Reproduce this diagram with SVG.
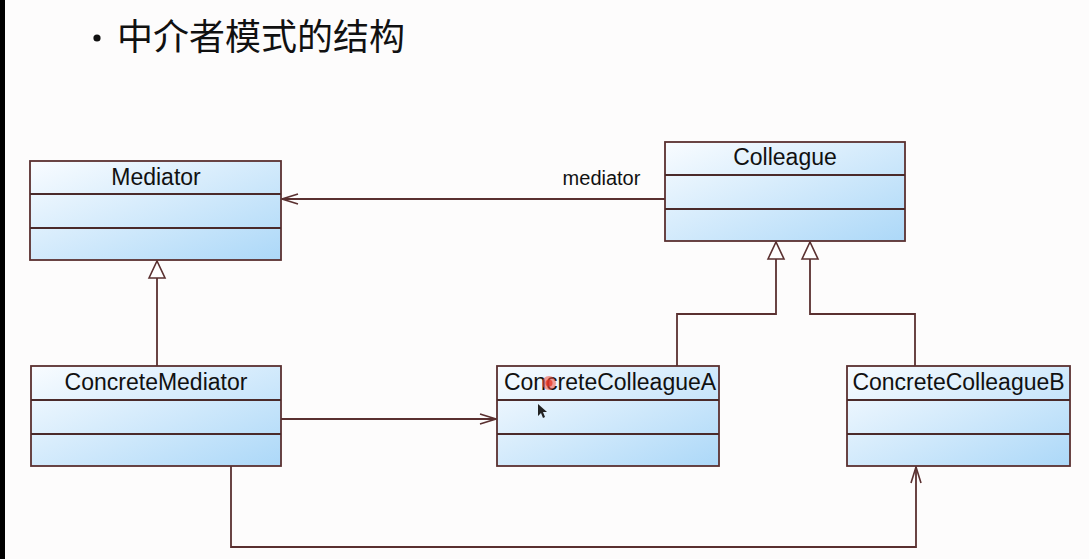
<svg xmlns="http://www.w3.org/2000/svg" width="1089" height="559" viewBox="0 0 1089 559">
<defs>
<linearGradient id="fill" x1="0" y1="0" x2="1" y2="1">
<stop offset="0" stop-color="#f9fcff"/>
<stop offset="1" stop-color="#acd8f8"/>
</linearGradient>
<marker id="open" viewBox="0 0 20 20" refX="18" refY="10" markerWidth="20" markerHeight="20" markerUnits="userSpaceOnUse" orient="auto">
<path d="M2,5 L18,10 L2,15" fill="none" stroke="#5a3030" stroke-width="1.6"/>
</marker>
<marker id="tri" viewBox="0 0 20 20" refX="19" refY="10" markerWidth="20" markerHeight="20" markerUnits="userSpaceOnUse" orient="auto">
<path d="M2,2 L19,10 L2,18 Z" fill="#ffffff" stroke="#5a3030" stroke-width="1.6"/>
</marker>
<style>
.box{fill:url(#fill);stroke:#5a3030;stroke-width:1.8}
.div{stroke:#4a2a2a;stroke-width:1.8}
.lbl{font-family:"Liberation Sans",Arial,sans-serif;font-size:23px;fill:#111;text-anchor:middle}
.con{fill:none;stroke:#5a3030;stroke-width:1.8}
</style>
</defs>
<rect width="1089" height="559" fill="#fdfcfc"/>
<rect x="0" y="0" width="5" height="559" fill="#000"/>
<circle cx="97" cy="38" r="3.6" fill="#111"/>
<text x="117" y="50" font-family="'Noto Sans CJK SC',sans-serif" font-size="36" fill="#111">中介者模式的结构</text>

<g id="connectors">
<path class="con" d="M665,199 L282,199" marker-end="url(#open)"/>
<text x="601.5" y="185" font-family="'Liberation Sans',Arial,sans-serif" font-size="20" fill="#111" text-anchor="middle">mediator</text>
<path class="con" d="M157,366 L157,261" marker-end="url(#tri)"/>
<path class="con" d="M677,366 L677,314 L776,314 L776,242" marker-end="url(#tri)"/>
<path class="con" d="M915,366 L915,314 L810,314 L810,242" marker-end="url(#tri)"/>
<path class="con" d="M281,419 L496,419" marker-end="url(#open)"/>
<path class="con" d="M231,466 L231,547 L916,547 L916,467" marker-end="url(#open)"/>
</g>

<g id="Mediator">
<rect class="box" x="30" y="161" width="251" height="99"/>
<line class="div" x1="30" y1="194" x2="281" y2="194"/>
<line class="div" x1="30" y1="228" x2="281" y2="228"/>
<text class="lbl" x="156" y="185">Mediator</text>
</g>
<g id="Colleague">
<rect class="box" x="665" y="142" width="240" height="99"/>
<line class="div" x1="665" y1="175" x2="905" y2="175"/>
<line class="div" x1="665" y1="209" x2="905" y2="209"/>
<text class="lbl" x="785" y="165">Colleague</text>
</g>
<g id="ConcreteMediator">
<rect class="box" x="31" y="366" width="250" height="100"/>
<line class="div" x1="31" y1="400" x2="281" y2="400"/>
<line class="div" x1="31" y1="434" x2="281" y2="434"/>
<text class="lbl" x="156" y="390">ConcreteMediator</text>
</g>
<g id="ConcreteColleagueA">
<rect class="box" x="497" y="366" width="222" height="100"/>
<line class="div" x1="497" y1="400" x2="719" y2="400"/>
<line class="div" x1="497" y1="434" x2="719" y2="434"/>
<text class="lbl" x="610" y="390">ConcreteColleagueA</text>
</g>
<g id="ConcreteColleagueB">
<rect class="box" x="847" y="366" width="223" height="100"/>
<line class="div" x1="847" y1="400" x2="1070" y2="400"/>
<line class="div" x1="847" y1="434" x2="1070" y2="434"/>
<text class="lbl" x="958.5" y="390">ConcreteColleagueB</text>
</g>

<circle cx="549" cy="383" r="7" fill="#f05040" opacity="0.55"/>
<circle cx="549" cy="383" r="3.5" fill="#e83020" opacity="0.7"/>
<path d="M538,404 L538,416 L541,413 L543,418 L545,417 L543,412 L547,412 Z" fill="#222"/>
</svg>
